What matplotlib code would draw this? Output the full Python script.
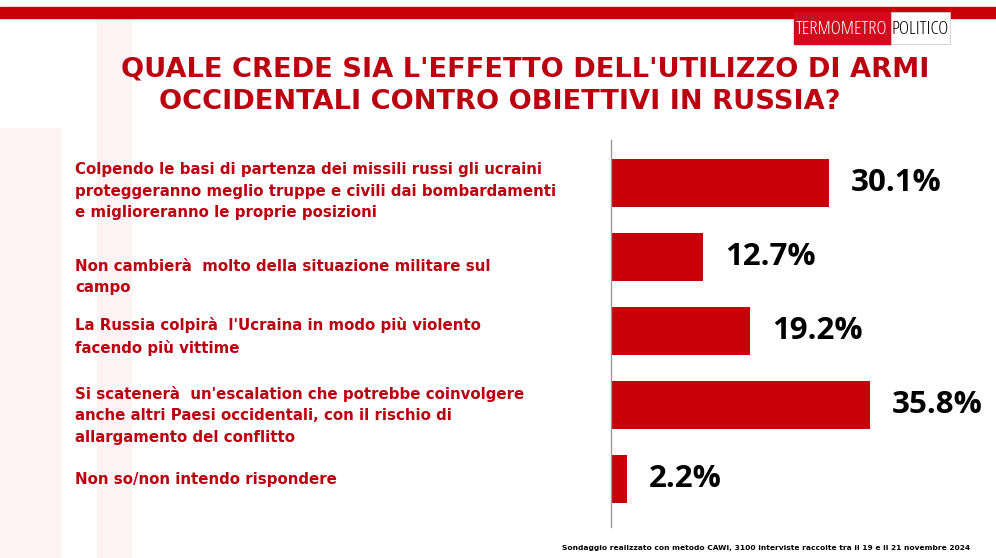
import matplotlib.pyplot as plt
import matplotlib.patches as mpatches
import matplotlib.transforms as mtransforms

# Data
answers = [
    "Colpendo le basi di partenza dei missili russi gli ucraini\nproteggeranno meglio truppe e civili dai bombardamenti\ne miglioreranno le proprie posizioni",
    "Non cambierà  molto della situazione militare sul\ncampo",
    "La Russia colpirà  l'Ucraina in modo più violento\nfacendo più vittime",
    "Si scatenerà  un'escalation che potrebbe coinvolgere\nanche altri Paesi occidentali, con il rischio di\nallargamento del conflitto",
    "Non so/non intendo rispondere",
]
values = [30.1, 12.7, 19.2, 35.8, 2.2]
value_labels = ["30.1%", "12.7%", "19.2%", "35.8%", "2.2%"]
title_lines = ["QUALE CREDE SIA L'EFFETTO DELL'UTILIZZO DI ARMI",
               "OCCIDENTALI CONTRO OBIETTIVI IN RUSSIA?"]
footer = "Sondaggio realizzato con metodo CAWI, 3100 interviste raccolte tra il 19 e il 21 novembre 2024"

# label vertical nudges (in bar units) so the text sits as in the original slide
label_shift = [0.11, 0.27, 0.08, 0.14, 0.01]

RED = "#c8000a"
TEXT_RED = "#bb0010"
W, H = 996, 558

fig = plt.figure(figsize=(W / 100, H / 100), dpi=100)
fig.patch.set_facecolor("white")

# faint watermark shapes on the left
wm = "#fdf3f4"
fig.patches.append(mpatches.Rectangle((97 / W, 0), 34 / W, 1 - 17 / H, transform=fig.transFigure,
                                      color=wm, zorder=-2))
fig.patches.append(mpatches.Rectangle((0, 0), 60 / W, 1 - 128 / H, transform=fig.transFigure,
                                      color=wm, zorder=-2))

# top red band
fig.patches.append(mpatches.Rectangle((0, 1 - 18 / H), 1, 11 / H, transform=fig.transFigure,
                                      color=RED, zorder=1))

# logo
fig.patches.append(mpatches.Rectangle((794 / W, 1 - 44 / H), 97 / W, 32 / H, transform=fig.transFigure,
                                      color="#d10a1e", zorder=2))
fig.patches.append(mpatches.Rectangle((891 / W, 1 - 44 / H), 59 / W, 32 / H, transform=fig.transFigure,
                                      facecolor="white", edgecolor="#cccccc", lw=0.6, zorder=2))
fig.text(842 / W, 1 - 29 / H, "TERMOMETRO", color="white", fontsize=14, family="Open Sans",
         fontstretch="condensed", ha="center", va="center", zorder=3)
fig.text(920 / W, 1 - 29 / H, "POLITICO", color="black", fontsize=14, family="Open Sans",
         fontstretch="condensed", ha="center", va="center", zorder=3)

# title
fig.text(525 / W, 1 - 70 / H, title_lines[0], color=TEXT_RED, fontsize=19.6, fontweight="bold",
         family="DejaVu Sans", ha="center", va="center")
fig.text(500 / W, 1 - 102 / H, title_lines[1], color=TEXT_RED, fontsize=19.6, fontweight="bold",
         family="DejaVu Sans", ha="center", va="center")

# bars
ax = fig.add_axes([611 / W, 1 - 527 / H, 380 / W, 387 / H])
ax.set_zorder(1)
ax.patch.set_alpha(0)
pos = list(range(len(values)))
ax.barh(pos, values, height=0.64, color=RED, zorder=2)
ax.set_xlim(0, 380 / 7.24)
ax.set_ylim(len(values) - 1 + 0.65, -0.58)
for s in ["top", "right", "bottom"]:
    ax.spines[s].set_visible(False)
ax.spines["left"].set_color("#999999")
ax.spines["left"].set_linewidth(1)
ax.set_xticks([])
ax.set_yticks([])

for p, v, lab in zip(pos, values, value_labels):
    ax.text(v + 3.0, p, lab, va="center", ha="left", fontsize=22.5, fontweight="bold",
            family="Open Sans", fontstretch="condensed", color="black")

trans = mtransforms.blended_transform_factory(fig.transFigure, ax.transData)
for p, a, d in zip(pos, answers, label_shift):
    ax.text(75 / W, p + d, a, transform=trans, va="center", ha="left", fontsize=10.8,
            fontweight="bold", family="DejaVu Sans", color=TEXT_RED, linespacing=1.55,
            clip_on=False)

fig.text(970 / W, 1 - 548 / H, footer, fontsize=5.4, fontweight="bold", family="DejaVu Sans",
         ha="right", va="center", color="black")

fig.savefig("out.png", dpi=100)
